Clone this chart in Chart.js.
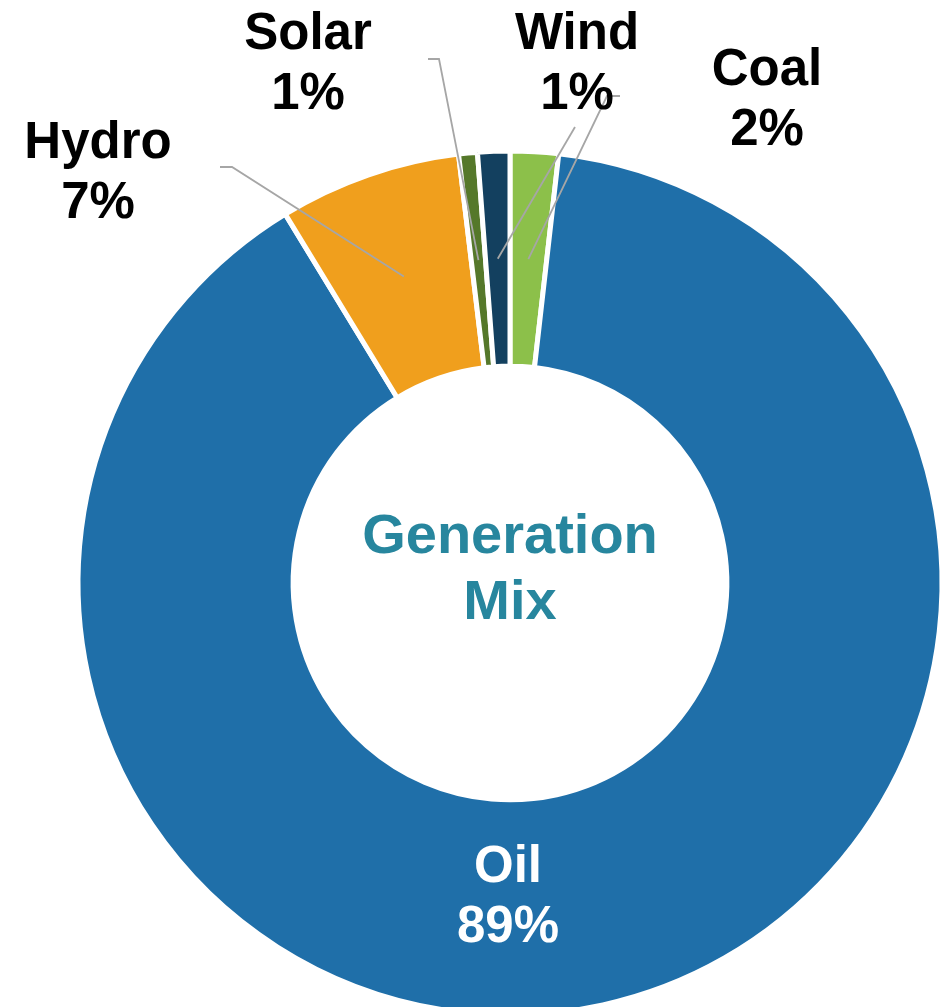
<!DOCTYPE html>
<html>
<head>
<meta charset="utf-8">
<script src="https://cdn.jsdelivr.net/npm/chart.js@4.4.1/dist/chart.umd.min.js"></script>
<style>
  html, body { margin: 0; padding: 0; background: #fff; overflow: hidden; }
  #wrap { position: absolute; left: 0; top: 0; width: 1020px; height: 1166px; }
</style>
</head>
<body>
<div id="wrap"><canvas id="mixChart"></canvas></div>
<script>
// clockwise from 12 o'clock
const sources = ['Coal', 'Oil', 'Hydro', 'Solar', 'Wind'];
const shares = [1.8, 89.4, 6.8, 0.7, 1.2];
const colors = ['#8cc04a', '#1f6fa9', '#f09f1d', '#55782a', '#13405f'];
const centerText = ['Generation', 'Mix'];

// label baseline spots, relative to the doughnut centre
const labelSpots = {
    Coal:  { dx: 257, dy: -498, lead: [[110, -487], [97, -487]] },
    Oil:   { dx: -2,  dy: 299, inside: true },
    Hydro: { dx: -412, dy: -425, lead: [[-290, -416], [-278, -416]] },
    Solar: { dx: -202, dy: -534, lead: [[-82, -524], [-71, -524]] },
    Wind:  { dx: 67,  dy: -534, lead: [[65, -456]] }
};

const labelPlugin = {
    id: 'leaderLabels',
    afterDraw(chart) {
        const ctx = chart.ctx;
        const arcs = chart.getDatasetMeta(0).data;
        const total = shares.reduce((a, b) => a + b, 0);
        const cx = arcs[0].x, cy = arcs[0].y;

        ctx.save();
        ctx.textAlign = 'center';
        ctx.textBaseline = 'alphabetic';

        arcs.forEach((arc, i) => {
            const name = sources[i];
            const spot = labelSpots[name];
            const pct = Math.round(shares[i] / total * 100) + '%';
            const mid = (arc.startAngle + arc.endAngle) / 2;
            const r = (arc.innerRadius + arc.outerRadius) / 2;
            const ax = cx + Math.cos(mid) * r;
            const ay = cy + Math.sin(mid) * r;

            if (!spot.inside) {
                ctx.strokeStyle = '#a6a6a6';
                ctx.lineWidth = 1.8;
                ctx.beginPath();
                spot.lead.forEach((p, k) => {
                    if (k === 0) ctx.moveTo(cx + p[0], cy + p[1]);
                    else ctx.lineTo(cx + p[0], cy + p[1]);
                });
                ctx.lineTo(ax, ay);
                ctx.stroke();
            }

            ctx.font = 'bold 51px "Liberation Sans", Arial, sans-serif';
            ctx.fillStyle = spot.inside ? '#ffffff' : '#000000';
            const tx = cx + spot.dx;
            const ty = cy + spot.dy;
            ctx.fillText(name, tx, ty);
            ctx.fillText(pct, tx, ty + 60);
        });

        ctx.font = 'bold 56px "Liberation Sans", Arial, sans-serif';
        ctx.fillStyle = '#27869e';
        ctx.fillText(centerText[0], cx, cy - 30);
        ctx.fillText(centerText[1], cx, cy + 36);
        ctx.restore();
    }
};

new Chart(document.getElementById('mixChart'), {
    type: 'doughnut',
    data: {
        labels: sources,
        datasets: [{
            data: shares,
            backgroundColor: colors,
            borderColor: '#ffffff',
            borderWidth: 5
        }]
    },
    options: {
        responsive: true,
        maintainAspectRatio: false,
        animation: false,
        radius: 432,
        cutout: '50.2%',
        layout: { padding: 0 },
        plugins: {
            legend: { display: false },
            tooltip: { enabled: false }
        }
    },
    plugins: [labelPlugin]
});
</script>
</body>
</html>
